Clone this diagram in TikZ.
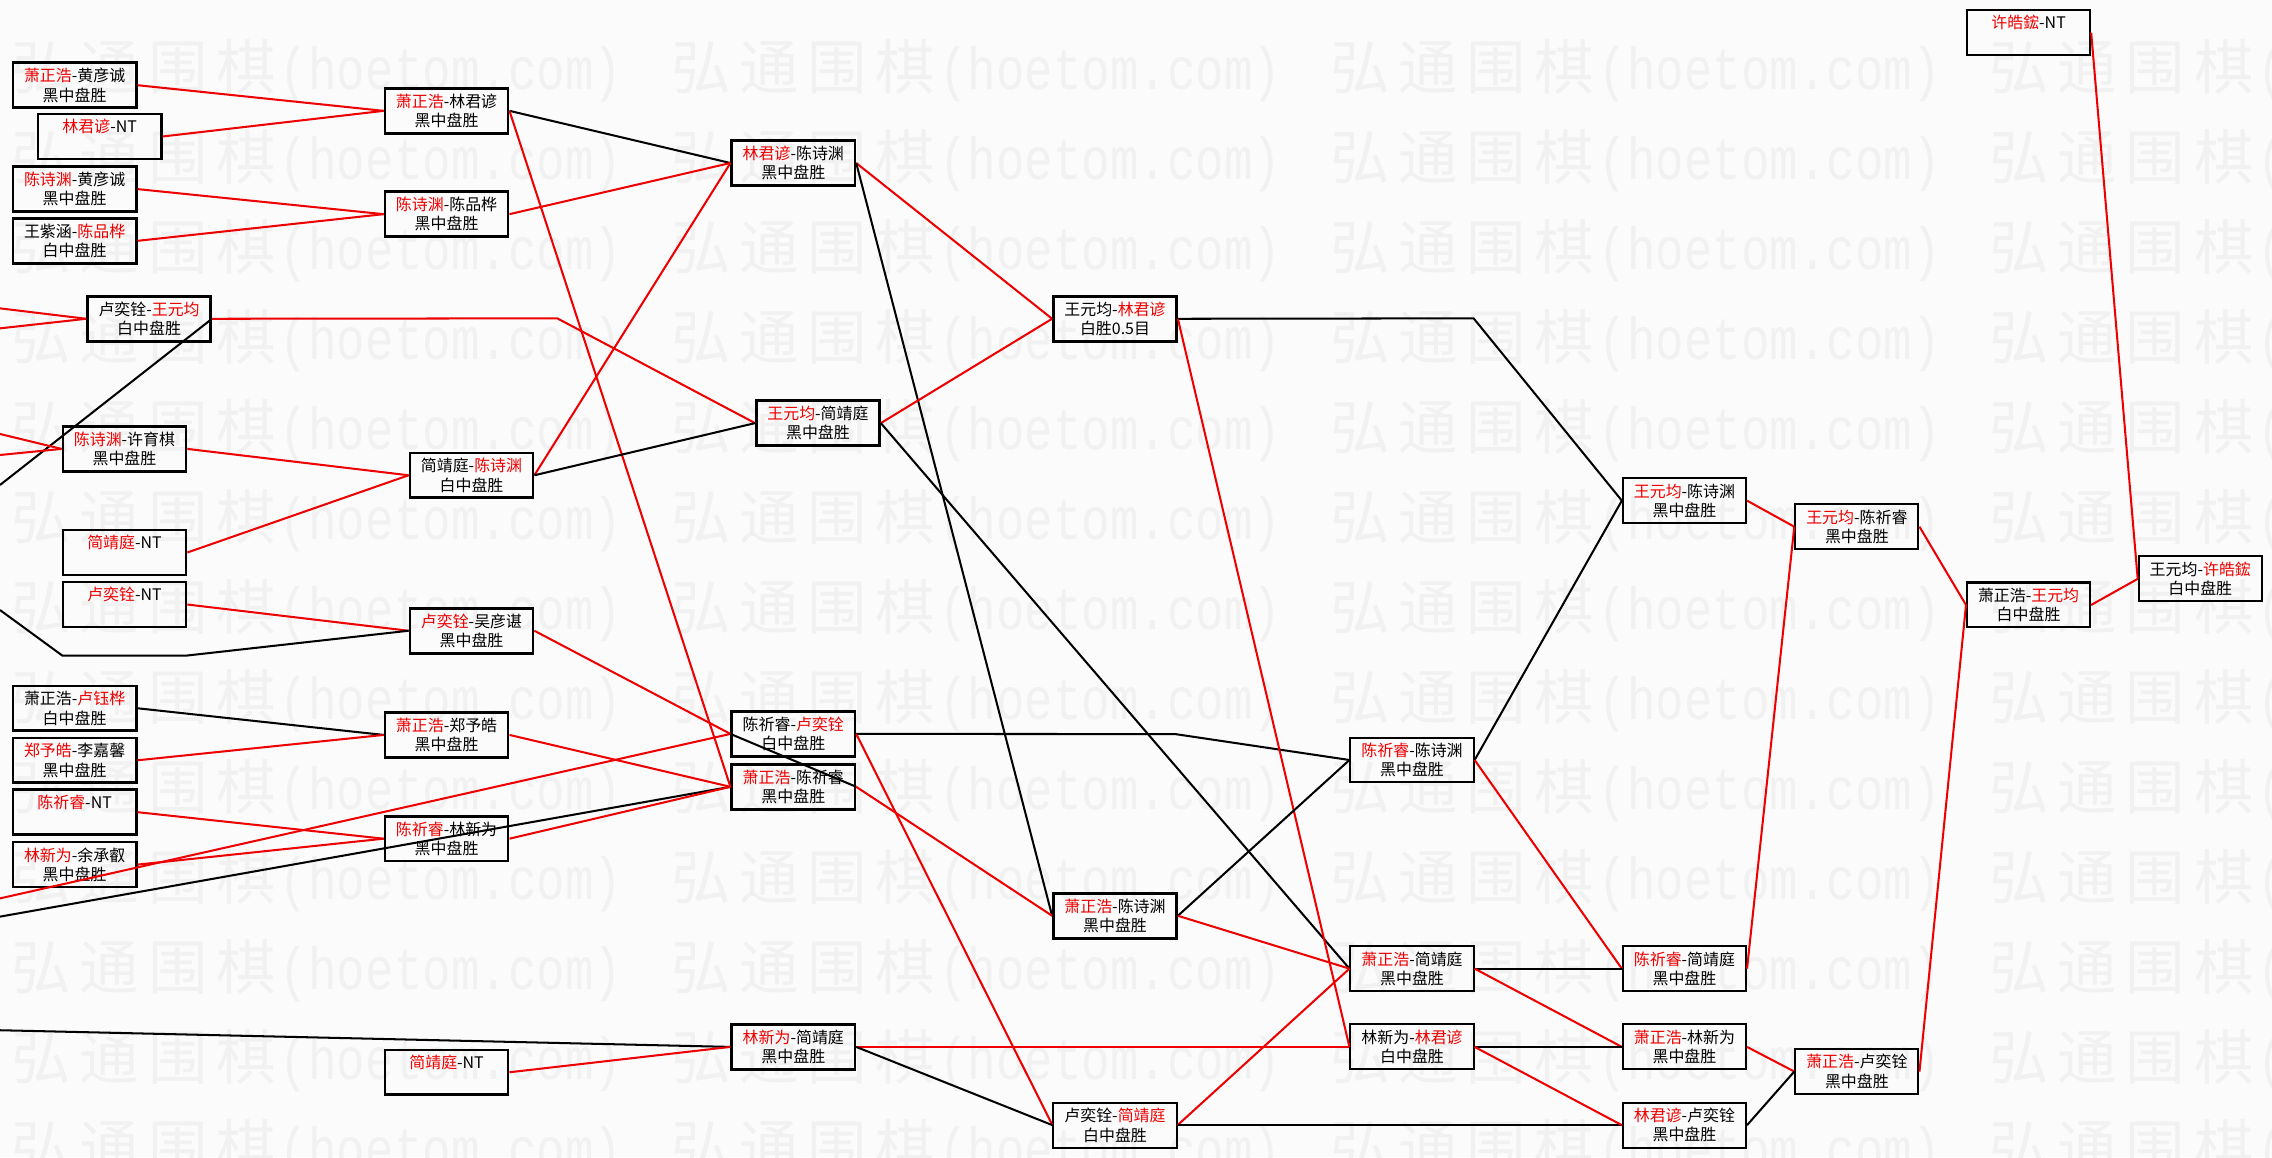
\documentclass[tikz,border=0pt]{standalone}
\usepackage{fontspec}
\newfontfamily\cjk{Noto Sans CJK SC}
\newfontfamily\wmmono[FakeStretch=0.8]{Liberation Mono}
\definecolor{rd}{HTML}{EE0000}
\definecolor{wmc}{HTML}{F1F1F1}
\definecolor{bgc}{HTML}{FBFBFB}
\newcommand\rn[1]{\textcolor{rd}{#1}}
\newcommand\wmchar[1]{\makebox[47pt][c]{#1}}
\tikzset{
  box/.style={draw=black, line width=1.8pt, minimum width=85pt, minimum height=31pt,
    inner sep=0pt, align=center, font=\cjk\fontsize{11}{13.4}\selectfont},
  boxr/.style={box, line width=1.4pt},
  redln/.style={draw=rd, line width=1.4pt},
  blkln/.style={draw=black, line width=1.4pt},
  wmark/.style={anchor=base west, inner sep=0pt, text=wmc, font=\cjk\fontsize{41}{41}\selectfont}
}
\begin{document}
\begin{tikzpicture}[x=1pt,y=-1pt]
\path[fill=bgc] (0,0) rectangle (1568,798.5);
\useasboundingbox (0,0) rectangle (1568,798.5);
% watermark
\foreach \k in {0,...,12}{
  \foreach \j in {0,...,3}{
    \node[wmark] at ({5+455*\j},{46+62.1*\k+15.6})
      {\wmchar{弘}\wmchar{通}\wmchar{围}\wmchar{棋}{\wmmono\fontsize{41}{41}\selectfont(hoetom.com)}};
  }
}
% column A
\node[box] (A1) at (51.5,58.8) {\rn{萧正浩}-黄彦诚\\黑中盘胜};
\node[box] (A2) at (68.8,94.2) {\rn{林君谚}-NT\\\phantom{黑}};
\node[box] (A3) at (51.5,130.5) {\rn{陈诗渊}-黄彦诚\\黑中盘胜};
\node[box] (A4) at (51.5,166.2) {王紫涵-\rn{陈品桦}\\白中盘胜};
\node[box] (C1) at (102.9,220) {卢奕铨-\rn{王元均}\\白中盘胜};
\node[box] (C2) at (85.9,309.8) {\rn{陈诗渊}-许育棋\\黑中盘胜};
\node[box] (C3) at (85.9,381.3) {\rn{简靖庭}-NT\\\phantom{黑}};
\node[box] (C4) at (85.9,417.2) {\rn{卢奕铨}-NT\\\phantom{黑}};
\node[box] (A5) at (51.5,488.8) {萧正浩-\rn{卢钰桦}\\白中盘胜};
\node[box] (A6) at (51.5,524.7) {\rn{郑予皓}-李嘉馨\\黑中盘胜};
\node[box] (A7) at (51.5,560.5) {\rn{陈祈睿}-NT\\\phantom{黑}};
\node[box] (A8) at (51.5,596.7) {\rn{林新为}-余承叡\\黑中盘胜};
% column B / D
\node[box] (B1) at (308.2,76.5) {\rn{萧正浩}-林君谚\\黑中盘胜};
\node[box] (B2) at (308.2,147.8) {\rn{陈诗渊}-陈品桦\\黑中盘胜};
\node[box] (D1) at (325.4,328) {简靖庭-\rn{陈诗渊}\\白中盘胜};
\node[box] (D2) at (325.4,435.3) {\rn{卢奕铨}-吴彦谌\\黑中盘胜};
\node[box] (B3) at (308.2,507.2) {\rn{萧正浩}-郑予皓\\黑中盘胜};
\node[box] (B4) at (308.2,578.8) {\rn{陈祈睿}-林新为\\黑中盘胜};
\node[box] (B5) at (308.2,740) {\rn{简靖庭}-NT\\\phantom{黑}};
% column E
\node[box] (E1) at (547.5,112.5) {\rn{林君谚}-陈诗渊\\黑中盘胜};
\node[box] (E2) at (564.5,292) {\rn{王元均}-简靖庭\\黑中盘胜};
\node[box] (E3) at (547.5,506.5) {陈祈睿-\rn{卢奕铨}\\白中盘胜};
\node[box] (E4) at (547.5,543) {\rn{萧正浩}-陈祈睿\\黑中盘胜};
\node[box] (E5) at (547.5,722.5) {\rn{林新为}-简靖庭\\黑中盘胜};
% column F
\node[box] (F1) at (769.5,220) {王元均-\rn{林君谚}\\白胜0.5目};
\node[box] (F4) at (769.5,632) {\rn{萧正浩}-陈诗渊\\黑中盘胜};
\node[boxr] (F5) at (769.5,776.5) {卢奕铨-\rn{简靖庭}\\白中盘胜};
% columns G H I
\node[boxr] (G1) at (1162.5,345.5) {\rn{王元均}-陈诗渊\\黑中盘胜};
\node[boxr] (G2) at (974.5,524.5) {\rn{陈祈睿}-陈诗渊\\黑中盘胜};
\node[boxr] (H1) at (974.5,668.5) {\rn{萧正浩}-简靖庭\\黑中盘胜};
\node[boxr] (H2) at (974.5,722.5) {林新为-\rn{林君谚}\\白中盘胜};
\node[boxr] (I1) at (1162.5,668.5) {\rn{陈祈睿}-简靖庭\\黑中盘胜};
\node[boxr] (I2) at (1162.5,722.5) {\rn{萧正浩}-林新为\\黑中盘胜};
\node[boxr] (I3) at (1162.5,776.5) {\rn{林君谚}-卢奕铨\\黑中盘胜};
% columns J K L M N
\node[boxr] (J1) at (1281.5,739.5) {\rn{萧正浩}-卢奕铨\\黑中盘胜};
\node[boxr] (K1) at (1281.5,363.5) {\rn{王元均}-陈祈睿\\黑中盘胜};
\node[boxr] (L1) at (1400,417.5) {萧正浩-\rn{王元均}\\白中盘胜};
\node[boxr] (M1) at (1518.5,399.5) {王元均-\rn{许皓鋐}\\白中盘胜};
\node[boxr] (N1) at (1400,22.5) {\rn{许皓鋐}-NT\\\phantom{黑}};
% free ends and bends
\coordinate (lC1a) at (0,212.8);
\coordinate (lC1b) at (0,226.6);
\coordinate (lC2a) at (0,299.5);
\coordinate (lC2b) at (0,314);
\coordinate (lC1k) at (0,334.7);
\coordinate (lD2k) at (0,421);
\coordinate (kD2a) at (43.1,452.5);
\coordinate (kD2b) at (128.2,452.5);
\coordinate (lE3) at (0,620);
\coordinate (lE4) at (0,632.6);
\coordinate (lE5) at (0,711);
\coordinate (kC1) at (384.6,219.7);
\coordinate (kE3) at (811,506.6);
\coordinate (kF1) at (1017,219.7);
% connectors, left part
\draw[redln] (A1.east) -- (B1.west);
\draw[redln] (A2.east) -- (B1.west);
\draw[redln] (A3.east) -- (B2.west);
\draw[redln] (A4.east) -- (B2.west);
\draw[redln] (lC1a) -- (C1.west);
\draw[redln] (lC1b) -- (C1.west);
\draw[blkln] (C1.east) -- (lC1k);
\draw[redln] (C1.east) -- (kC1) -- (E2.west);
\draw[redln] (lC2a) -- (C2.west);
\draw[redln] (lC2b) -- (C2.west);
\draw[redln] (C2.east) -- (D1.west);
\draw[redln] (C3.east) -- (D1.west);
\draw[redln] (C4.east) -- (D2.west);
\draw[blkln] (lD2k) -- (kD2a) -- (kD2b) -- (D2.west);
\draw[blkln] (A5.east) -- (B3.west);
\draw[redln] (A6.east) -- (B3.west);
\draw[redln] (A7.east) -- (B4.west);
\draw[redln] (A8.east) -- (B4.west);
\draw[redln] (lE3) -- (E3.west);
\draw[blkln] (lE4) -- (E4.west);
\draw[blkln] (lE5) -- (E5.west);
\draw[redln] (B5.east) -- (E5.west);
% into column E
\draw[blkln] (B1.east) -- (E1.west);
\draw[redln] (B1.east) -- (E4.west);
\draw[redln] (B2.east) -- (E1.west);
\draw[redln] (D1.east) -- (E1.west);
\draw[blkln] (D1.east) -- (E2.west);
\draw[redln] (D2.east) -- (E3.west);
\draw[redln] (B3.east) -- (E4.west);
\draw[redln] (B4.east) -- (E4.west);
% from column E
\draw[redln] (E1.east) -- (F1.west);
\draw[blkln] (E1.east) -- (F4.west);
\draw[redln] (E2.east) -- (F1.west);
\draw[blkln] (E2.east) -- (H1.west);
\draw[blkln] (E4.east) -- (E3.west);
\draw[redln] (E4.east) -- (F4.west);
\draw[blkln] (E3.east) -- (kE3) -- (G2.west);
\draw[redln] (E3.east) -- (F5.west);
\draw[redln] (E5.east) -- (H2.west);
\draw[blkln] (E5.east) -- (F5.west);
% from column F
\draw[blkln] (F1.east) -- (kF1) -- (G1.west);
\draw[redln] (F1.east) -- (H2.west);
\draw[blkln] (F4.east) -- (G2.west);
\draw[redln] (F4.east) -- (H1.west);
\draw[redln] (F5.east) -- (H1.west);
\draw[blkln] (F5.east) -- (I3.west);
% from G H
\draw[blkln] (G2.east) -- (G1.west);
\draw[redln] (G2.east) -- (I1.west);
\draw[blkln] (H1.east) -- (I1.west);
\draw[redln] (H1.east) -- (I2.west);
\draw[blkln] (H2.east) -- (I2.west);
\draw[redln] (H2.east) -- (I3.west);
% right part
\draw[redln] (G1.east) -- (K1.west);
\draw[redln] (I1.east) -- (K1.west);
\draw[redln] (I2.east) -- (J1.west);
\draw[blkln] (I3.east) -- (J1.west);
\draw[redln] (J1.east) -- (L1.west);
\draw[redln] (K1.east) -- (L1.west);
\draw[redln] (L1.east) -- (M1.west);
\draw[redln] (N1.east) -- (M1.west);
\end{tikzpicture}
\end{document}
